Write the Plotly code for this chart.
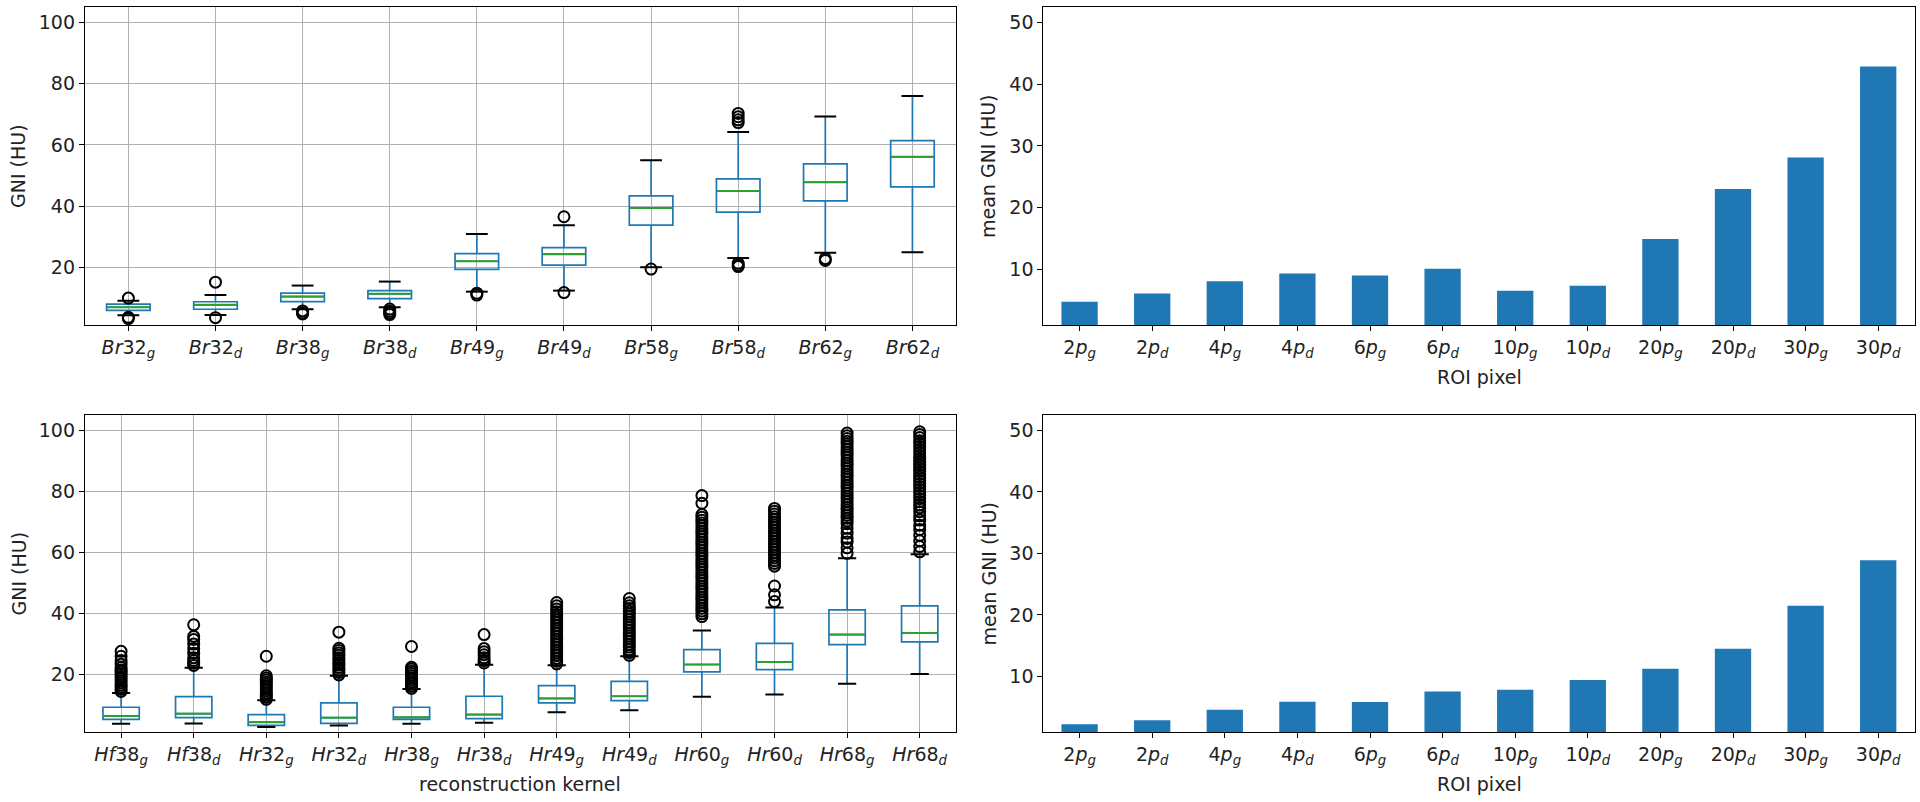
import plotly.graph_objects as go

# ---------------- data ----------------
br_kernels = ["Br32g", "Br32d", "Br38g", "Br38d", "Br49g", "Br49d", "Br58g", "Br58d", "Br62g", "Br62d"]
br_ticktext = ["<i>Br</i>32<sub><i>g</i></sub>", "<i>Br</i>32<sub><i>d</i></sub>",
               "<i>Br</i>38<sub><i>g</i></sub>", "<i>Br</i>38<sub><i>d</i></sub>",
               "<i>Br</i>49<sub><i>g</i></sub>", "<i>Br</i>49<sub><i>d</i></sub>",
               "<i>Br</i>58<sub><i>g</i></sub>", "<i>Br</i>58<sub><i>d</i></sub>",
               "<i>Br</i>62<sub><i>g</i></sub>", "<i>Br</i>62<sub><i>d</i></sub>"]
br_q1 = [5.9, 6.25, 8.75, 9.7, 19.3, 20.65, 33.75, 38.0, 41.7, 46.3]
br_median = [6.9, 7.7, 10.4, 11.3, 21.95, 24.25, 39.4, 44.9, 47.8, 56.1]
br_q3 = [7.9, 8.7, 11.5, 12.35, 24.45, 26.4, 43.3, 48.9, 53.8, 61.4]
br_low = [4.3, 4.4, 6.25, 6.9, 12.0, 12.35, 20.0, 23.0, 24.7, 24.9]
br_high = [9.0, 10.9, 14.0, 15.3, 30.9, 33.7, 55.0, 64.2, 69.3, 76.0]
br_outliers = [
    [9.9, 3.6, 3.2],
    [15.1, 3.5],
    [5.7, 5.0, 4.7],
    [6.3, 5.6, 5.0, 4.5],
    [11.5, 10.9],
    [36.5, 11.7],
    [19.4],
    [67.3, 68.2, 69.2, 70.3, 21.3, 20.6, 20.2],
    [22.8, 22.2],
    [],
]

hr_kernels = ["Hf38g", "Hf38d", "Hr32g", "Hr32d", "Hr38g", "Hr38d",
              "Hr49g", "Hr49d", "Hr60g", "Hr60d", "Hr68g", "Hr68d"]
hr_ticktext = ["<i>Hf</i>38<sub><i>g</i></sub>", "<i>Hf</i>38<sub><i>d</i></sub>",
               "<i>Hr</i>32<sub><i>g</i></sub>", "<i>Hr</i>32<sub><i>d</i></sub>",
               "<i>Hr</i>38<sub><i>g</i></sub>", "<i>Hr</i>38<sub><i>d</i></sub>",
               "<i>Hr</i>49<sub><i>g</i></sub>", "<i>Hr</i>49<sub><i>d</i></sub>",
               "<i>Hr</i>60<sub><i>g</i></sub>", "<i>Hr</i>60<sub><i>d</i></sub>",
               "<i>Hr</i>68<sub><i>g</i></sub>", "<i>Hr</i>68<sub><i>d</i></sub>"]
hr_q1 = [5.3, 5.9, 3.35, 4.0, 5.3, 5.6, 10.75, 11.5, 20.9, 21.6, 29.8, 30.7]
hr_median = [6.4, 7.2, 4.4, 5.9, 6.0, 6.9, 12.2, 12.9, 23.3, 24.1, 33.1, 33.6]
hr_q3 = [9.3, 12.8, 6.9, 10.75, 9.3, 12.9, 16.4, 17.8, 28.2, 30.2, 41.2, 42.5]
hr_low = [3.9, 4.0, 2.8, 3.35, 3.9, 4.2, 7.7, 8.35, 12.7, 13.5, 17.0, 20.2]
hr_high = [14.0, 22.2, 11.6, 19.6, 15.3, 23.2, 23.05, 26.0, 34.4, 42.0, 58.1, 59.4]
hr_outliers = [
    [14.5, 15.2, 15.9, 16.6, 17.3, 18.0, 18.7, 19.4, 20.1, 20.8, 21.5, 22.3, 23.4, 24.6, 26.0, 27.6],
    [23.0, 23.8, 24.6, 25.5, 27.0, 28.5, 30.0, 31.5, 32.5, 36.3],
    [11.9, 12.6, 13.3, 14.0, 14.7, 15.4, 16.1, 16.8, 17.5, 18.2, 18.9, 19.6, 26.0],
    [19.9, 20.7, 21.5, 22.3, 23.1, 23.9, 24.7, 25.5, 26.3, 27.1, 27.9, 28.6, 33.9],
    [15.5, 16.2, 16.9, 17.6, 18.3, 19.0, 19.7, 20.4, 21.1, 21.8, 22.4, 29.2],
    [23.8, 24.6, 25.5, 26.5, 27.5, 28.5, 33.1],
    [23.5, 24.4, 25.3, 26.2, 27.1, 28.0, 28.9, 29.8, 30.7, 31.6, 32.5, 33.4, 34.3, 35.2,
     36.1, 37.0, 37.9, 38.8, 39.7, 40.6, 41.5, 42.5, 43.6],
    [26.3, 27.2, 28.1, 29.0, 29.9, 30.8, 31.7, 32.6, 33.5, 34.4, 35.3, 36.2, 37.1, 38.0,
     38.9, 39.8, 40.7, 41.6, 42.5, 43.5, 44.9],
    [39.0, 39.9, 40.8, 41.7, 42.6, 43.5, 44.4, 45.3, 46.2, 47.1, 48.0, 48.9, 49.8, 50.7,
     51.6, 52.5, 53.4, 54.3, 55.2, 56.1, 57.0, 57.9, 58.8, 59.7, 60.6, 61.5, 62.4, 63.3,
     64.2, 65.1, 66.0, 66.9, 67.8, 68.7, 69.6, 70.5, 71.5, 72.4, 76.1, 78.6],
    [43.9, 46.1, 49.0, 55.5, 56.4, 57.3, 58.2, 59.1, 60.0, 60.9, 61.8, 62.7, 63.6, 64.5,
     65.4, 66.3, 67.2, 68.1, 69.0, 69.9, 70.8, 71.7, 72.6, 73.5, 74.4],
    [59.7, 61.5, 63.4, 64.6, 66.3, 67.9, 69.4, 70.3, 71.2, 72.1, 73.0, 73.9, 74.8, 75.7,
     76.6, 77.5, 78.4, 79.3, 80.2, 81.1, 82.0, 82.9, 83.8, 84.7, 85.6, 86.5, 87.4, 88.3,
     89.2, 90.1, 91.0, 91.9, 92.8, 93.7, 94.6, 95.5, 96.4, 97.3, 98.2, 99.1],
    [60.2, 61.9, 63.8, 65.6, 67.5, 68.9, 70.6, 72.0, 73.3, 74.6, 75.6, 76.6, 77.6, 78.6,
     79.6, 80.6, 81.6, 82.6, 83.6, 84.6, 85.6, 86.6, 87.6, 88.6, 89.6, 90.6, 91.6, 92.6,
     93.6, 94.6, 95.6, 96.6, 97.6, 98.6, 99.5],
]

roi_labels = ["2pg", "2pd", "4pg", "4pd", "6pg", "6pd", "10pg", "10pd", "20pg", "20pd", "30pg", "30pd"]
roi_ticktext = ["2<i>p</i><sub><i>g</i></sub>", "2<i>p</i><sub><i>d</i></sub>",
                "4<i>p</i><sub><i>g</i></sub>", "4<i>p</i><sub><i>d</i></sub>",
                "6<i>p</i><sub><i>g</i></sub>", "6<i>p</i><sub><i>d</i></sub>",
                "10<i>p</i><sub><i>g</i></sub>", "10<i>p</i><sub><i>d</i></sub>",
                "20<i>p</i><sub><i>g</i></sub>", "20<i>p</i><sub><i>d</i></sub>",
                "30<i>p</i><sub><i>g</i></sub>", "30<i>p</i><sub><i>d</i></sub>"]
mean_gni_br = [4.7, 6.05, 8.05, 9.3, 8.97, 10.05, 6.5, 7.3, 14.9, 23.0, 28.1, 42.9]
mean_gni_hr = [2.25, 2.9, 4.6, 5.9, 5.85, 7.55, 7.85, 9.45, 11.25, 14.5, 21.5, 28.9]

# ---------------- styling ----------------
FONT = "DejaVu Sans"
FS = 19
BLUE = "#1f77b4"
GREEN = "#2ca02c"
W, H = 1920, 802
LINE_SYMBOL_SCALE = 1.4  # plotly line-ew symbols are 1.4x marker size long

fig = go.Figure()


def add_boxpanel(xa, ya, names, q1, med, q3, low, high, outl, cap_px, box_px):
    xref = "x" if xa == 1 else f"x{xa}"
    yref = "y" if ya == 1 else f"y{ya}"
    fig.add_trace(go.Box(
        x=names, q1=q1, median=med, q3=q3, lowerfence=low, upperfence=high,
        boxpoints=False, width=0.5, whiskerwidth=0,
        line=dict(color=BLUE, width=1.7), fillcolor="rgba(0,0,0,0)",
        xaxis=xref, yaxis=yref, showlegend=False, hoverinfo="skip"))
    # whisker caps (black)
    fig.add_trace(go.Scatter(
        x=names + names, y=low + high, mode="markers",
        marker=dict(symbol="line-ew", size=cap_px / LINE_SYMBOL_SCALE, line=dict(width=2, color="black")),
        xaxis=xref, yaxis=yref, showlegend=False, hoverinfo="skip"))
    # medians (green)
    fig.add_trace(go.Scatter(
        x=names, y=med, mode="markers",
        marker=dict(symbol="line-ew", size=box_px / LINE_SYMBOL_SCALE, line=dict(width=2, color=GREEN)),
        xaxis=xref, yaxis=yref, showlegend=False, hoverinfo="skip"))
    # fliers
    ox, oy = [], []
    for n, vals in zip(names, outl):
        ox += [n] * len(vals)
        oy += vals
    fig.add_trace(go.Scatter(
        x=ox, y=oy, mode="markers",
        marker=dict(symbol="circle-open", size=11, color="black", line=dict(width=2, color="black")),
        xaxis=xref, yaxis=yref, showlegend=False, hoverinfo="skip"))


add_boxpanel(1, 1, br_kernels, br_q1, br_median, br_q3, br_low, br_high, br_outliers, 21.8, 42.5)
add_boxpanel(3, 3, hr_kernels, hr_q1, hr_median, hr_q3, hr_low, hr_high, hr_outliers, 18.2, 35.5)

fig.add_trace(go.Bar(x=roi_labels, y=mean_gni_br, width=0.5, marker=dict(color=BLUE, line=dict(width=0)),
                     xaxis="x2", yaxis="y2", showlegend=False, hoverinfo="skip"))
fig.add_trace(go.Bar(x=roi_labels, y=mean_gni_hr, width=0.5, marker=dict(color=BLUE, line=dict(width=0)),
                     xaxis="x4", yaxis="y4", showlegend=False, hoverinfo="skip"))

# domains (paper fractions)
xl = [84.8 / W, 956 / W]
xr = [1043.3 / W, 1914.5 / W]
yt = [(H - 325) / H, (H - 7.3) / H]
yb = [(H - 732.3) / H, (H - 415) / H]

axis_common = dict(showline=True, mirror=True, linecolor="black", linewidth=1,
                   ticks="outside", ticklen=5, tickwidth=1, tickcolor="black",
                   tickfont=dict(family=FONT, size=FS, color="#222"), zeroline=False)
grid = dict(showgrid=True, gridcolor="#b0b0b0", gridwidth=1)
nogrid = dict(showgrid=False)

fig.update_layout(
    width=W, height=H, margin=dict(l=0, r=0, t=0, b=0),
    paper_bgcolor="white", plot_bgcolor="white",
    font=dict(family=FONT, size=FS, color="#222"),
    showlegend=False,
    xaxis=dict(domain=xl, anchor="y", type="category", range=[-0.5, 9.5],
               tickvals=br_kernels, ticktext=br_ticktext, **grid, **axis_common),
    yaxis=dict(domain=yt, anchor="x", range=[1.1, 105], tickvals=[20, 40, 60, 80, 100], **grid, **axis_common),
    xaxis2=dict(domain=xr, anchor="y2", type="category", range=[-0.5, 11.5],
                tickvals=roi_labels, ticktext=roi_ticktext, **nogrid, **axis_common),
    yaxis2=dict(domain=yt, anchor="x2", range=[0.93, 52.5], tickvals=[10, 20, 30, 40, 50], **nogrid, **axis_common),
    xaxis3=dict(domain=xl, anchor="y3", type="category", range=[-0.5, 11.5],
                tickvals=hr_kernels, ticktext=hr_ticktext, **grid, **axis_common),
    yaxis3=dict(domain=yb, anchor="x3", range=[1.1, 105], tickvals=[20, 40, 60, 80, 100], **grid, **axis_common),
    xaxis4=dict(domain=xr, anchor="y4", type="category", range=[-0.5, 11.5],
                tickvals=roi_labels, ticktext=roi_ticktext, **nogrid, **axis_common),
    yaxis4=dict(domain=yb, anchor="x4", range=[0.93, 52.5], tickvals=[10, 20, 30, 40, 50], **nogrid, **axis_common),
)

ann_font = dict(family=FONT, size=FS, color="#222")
annotations = [
    dict(text="GNI (HU)", x=18 / W, y=(H - 166) / H, textangle=-90),
    dict(text="GNI (HU)", x=18 / W, y=(H - 573.5) / H, textangle=-90),
    dict(text="mean GNI (HU)", x=988 / W, y=(H - 166) / H, textangle=-90),
    dict(text="mean GNI (HU)", x=988 / W, y=(H - 573.5) / H, textangle=-90),
    dict(text="ROI pixel", x=1479 / W, y=(H - 376.7) / H, textangle=0),
    dict(text="ROI pixel", x=1479 / W, y=(H - 784) / H, textangle=0),
    dict(text="reconstruction kernel", x=520 / W, y=(H - 784) / H, textangle=0),
]
for a in annotations:
    fig.add_annotation(xref="paper", yref="paper", showarrow=False, xanchor="center", yanchor="middle",
                       font=ann_font, **a)

fig.write_html("out.html", config={"displayModeBar": False},
               post_script="document.body.style.margin='0';document.body.style.overflow='hidden';")
